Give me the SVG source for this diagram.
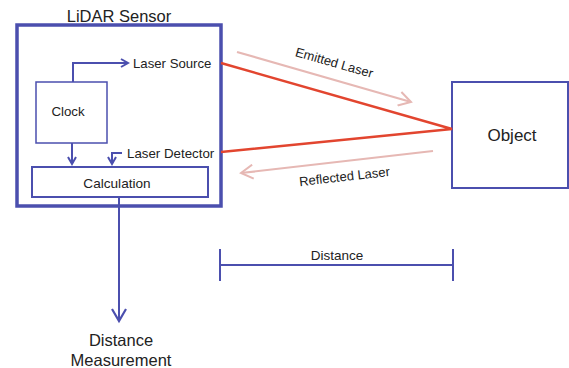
<svg xmlns="http://www.w3.org/2000/svg" width="569" height="368" viewBox="0 0 569 368">
<defs>
<style>
text{font-family:"Liberation Sans",Arial,sans-serif;fill:#222;}
.b{fill:none;stroke:#4b4fae;}
.red{fill:none;stroke:#e2452f;stroke-width:2.5;}
.pink{fill:none;stroke:#e6b8b4;stroke-width:2.2;}
</style>
<marker id="ab" viewBox="0 0 10 10" refX="8" refY="5" markerWidth="10" markerHeight="10" markerUnits="userSpaceOnUse" orient="auto"><path d="M1,1 L8,5 L1,9" fill="none" stroke="#4b4fae" stroke-width="2"/></marker>
<marker id="abL" viewBox="0 0 16 16" refX="13" refY="8" markerWidth="16" markerHeight="16" markerUnits="userSpaceOnUse" orient="auto"><path d="M1,1 L13,8 L1,15" fill="none" stroke="#4b4fae" stroke-width="2.2"/></marker>
<marker id="ap" viewBox="0 0 16 16" refX="13" refY="8" markerWidth="16" markerHeight="16" markerUnits="userSpaceOnUse" orient="auto"><path d="M1,1 L13,8 L1,15" fill="none" stroke="#e6b8b4" stroke-width="2"/></marker>
</defs>
<rect width="569" height="368" fill="#fff"/>
<g id="lidar">
<rect class="b" x="17" y="25" width="204" height="181" stroke-width="3.5"/>
<text x="119" y="22" font-size="16.5" text-anchor="middle">LiDAR Sensor</text>
</g>
<g id="clock">
<rect class="b" x="36" y="82" width="71" height="61" stroke-width="1.5"/>
<text x="68" y="116" font-size="13.3" text-anchor="middle">Clock</text>
</g>
<g id="laser-source"><text x="133" y="68" font-size="13.2">Laser Source</text></g>
<g id="laser-detector"><text x="127" y="158" font-size="13.3">Laser Detector</text></g>
<g id="calculation">
<rect class="b" x="32" y="167" width="176" height="30" stroke-width="2"/>
<text x="117" y="188" font-size="13.6" text-anchor="middle">Calculation</text>
</g>
<g id="object">
<rect class="b" x="452" y="82" width="116" height="106" stroke-width="2"/>
<text x="512" y="141" font-size="17" text-anchor="middle">Object</text>
</g>
<g id="distance-measurement">
<text x="121" y="346" font-size="16.5" text-anchor="middle">Distance</text>
<text x="121" y="366" font-size="16.5" text-anchor="middle">Measurement</text>
</g>
<g id="distance">
<path class="b" d="M220,265 H453 M220,249 V281 M453,249 V281" stroke-width="2"/>
<text x="337" y="260" font-size="13.5" text-anchor="middle">Distance</text>
</g>
<g id="connectors">
<path class="b" d="M73,82 V63 H128" stroke-width="2" marker-end="url(#ab)"/>
<path class="b" d="M72,143 V164" stroke-width="2" marker-end="url(#ab)"/>
<path class="b" d="M122,153 H112 V164" stroke-width="2" marker-end="url(#ab)"/>
<path class="b" d="M119,197 V321" stroke-width="2" marker-end="url(#abL)"/>
<path class="red" d="M221,63 L452,129 L221,152"/>
<path class="pink" d="M237,52 L411,102" marker-end="url(#ap)"/>
<path class="pink" d="M433,151 L241,173" marker-end="url(#ap)"/>
<text x="333" y="67" font-size="13" text-anchor="middle" transform="rotate(16 333 67)">Emitted Laser</text>
<text x="345" y="181" font-size="13" text-anchor="middle" transform="rotate(-6.5 345 181)">Reflected Laser</text>
</g>
</svg>
